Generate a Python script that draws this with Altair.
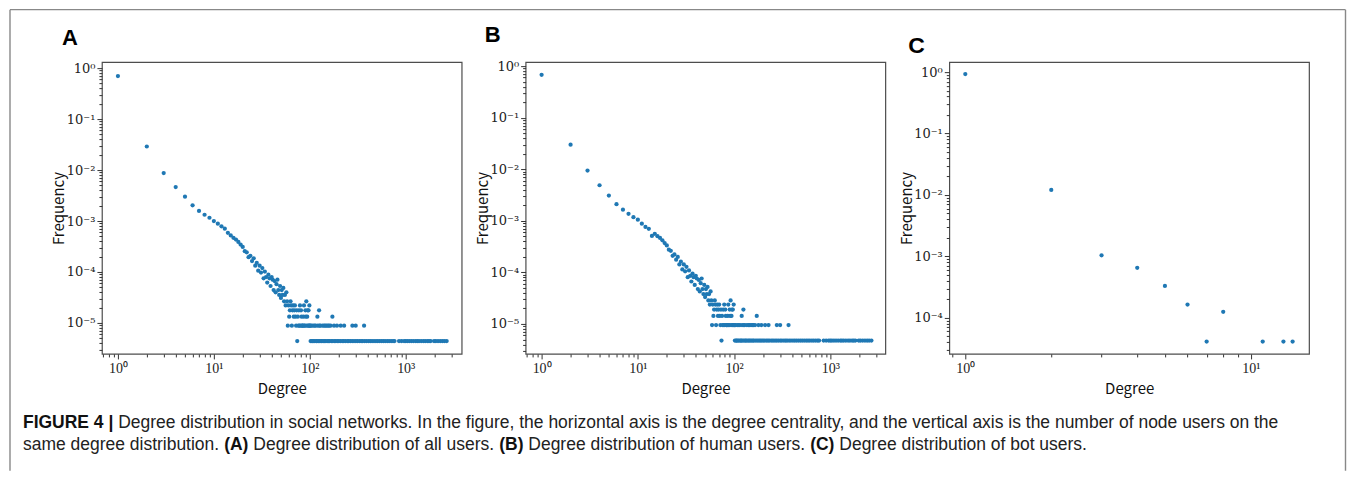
import altair as alt
import pandas as pd

BLUE = "#1f78b4"

# ---------------- data ----------------
# Panel A: all users (counts per degree, normalised by N_ALL)
N_ALL = 226000
A_deg = list(range(1, 101))
A_cnt = [158000, 6550, 1970, 1050, 680, 460, 357, 300, 262, 226,
         200, 178, 160, 133, 118, 106, 98, 88, 78, 70,
         58, 55, 44, 47, 37, 42, 30, 34, 24, 30,
         22, 27, 17, 23, 18, 14, 20, 17, 12, 18,
         16, 10, 15, 9, 13, 16, 10, 8, 12, 7,
         10, 8, 11, 6, 8, 5, 9, 6, 2, 5,
         3, 4, 6, 5, 2, 4, 5, 3, 4, 5,
         3, 2, 4, 1, 3, 2, 4, 2, 5, 2,
         4, 3, 2, 2, 2, 3, 5, 2, 2, 4,
         3, 6, 2, 3, 4, 2, 4, 2, 5, 2]
# degrees above 100 that appear once, twice, three and four times
A_once = [102, 105, 107, 110, 113, 117, 119, 123, 127, 131, 134, 139, 143, 147,
          152, 157, 161, 168, 174, 181, 187, 194, 201, 209, 218, 226, 235, 246,
          255, 266, 277, 289, 302, 314, 329, 343, 356, 373, 390, 409, 427, 446,
          467, 489, 511, 535, 561, 586, 612, 643, 672, 705, 738, 764, 852, 905,
          961, 1000, 1040, 1090, 1145, 1205, 1271, 1320, 1377, 1450, 1529, 1600,
          1683, 1750, 1821, 1973, 2060, 2171, 2290, 2411, 2530, 2673]
A_twice = [101, 104, 108, 112, 115, 121, 126, 129, 136, 141, 145, 150, 155, 159,
           165, 179, 192, 210, 228, 278, 301, 368]
A_thrice = [120, 172]
A_four = [125]

# Panel B: human users (degree >= 15 is shared with A: bots never exceed 14)
N_HUMAN = 210500
B_head_deg = list(range(1, 15))
B_head_cnt = [143000, 6290, 1980, 1030, 650, 442, 345, 288, 248, 221, 185, 160, 147, 107]

# Panel C: bot users (frequencies)
C_deg = [1, 2, 3, 4, 5, 6, 7, 8, 11, 13, 14]
C_freq = [0.93, 0.0121, 0.00104, 0.00065, 0.00033, 0.000164, 0.000041,
          0.000125, 0.000041, 0.000041, 0.000041]

CAPTION_1 = [("FIGURE 4 |", True),
             (" Degree distribution in social networks. In the figure, the horizontal axis is the degree "
              "centrality, and the vertical axis is the number of node users on the", False)]
CAPTION_2 = [("same degree distribution. ", False), ("(A)", True),
             (" Degree distribution of all users. ", False), ("(B)", True),
             (" Degree distribution of human users. ", False), ("(C)", True),
             (" Degree distribution of bot users.", False)]

# ---------------- tables ----------------
tail_deg = A_once + A_twice + A_thrice + A_four
tail_cnt = [1] * len(A_once) + [2] * len(A_twice) + [3] * len(A_thrice) + [4] * len(A_four)

all_deg = A_deg + tail_deg
all_cnt = A_cnt + tail_cnt
dfA = pd.DataFrame({"degree": all_deg, "count": all_cnt})
dfA["freq"] = dfA["count"] / N_ALL

b_deg = B_head_deg + [d for d in all_deg if d >= 15]
b_cnt = B_head_cnt + [c for d, c in zip(all_deg, all_cnt) if d >= 15]
dfB = pd.DataFrame({"degree": b_deg, "count": b_cnt})
dfB["freq"] = dfB["count"] / N_HUMAN

dfC = pd.DataFrame({"degree": C_deg, "freq": C_freq})

# ---------------- helpers ----------------
def log_ticks(lo, hi):
    out = []
    for e in range(-7, 5):
        for m in range(1, 10):
            v = m * 10.0 ** e
            if lo <= v <= hi:
                out.append(v)
    return out

DECADE = "abs(log(datum.value)/LN10 - round(log(datum.value)/LN10)) < 0.001"
SUP = ("replace(replace(replace(replace(replace(replace(replace(''+round(log(datum.value)/LN10),"
       "'-','⁻'),'0','⁰'),'1','¹'),'2','²'),'3','³'),'4','⁴'),'5','⁵')")
LABEL = "(" + DECADE + ") ? '10' + " + SUP + " : ''"
TICK = {"condition": {"test": DECADE, "value": 5}, "value": 3}

W, H = 360, 292
TITLE_FONT = "Noto Sans CJK SC"


def panel(df, xdom, ydom, letter, dx, offset, lsize):
    x_axis = alt.Axis(values=log_ticks(*xdom), labelExpr=LABEL, tickSize=TICK,
                      tickColor="#333", domain=False, grid=False, labelOverlap=False,
                      labelFlush=False, labelFont="Liberation Serif", labelFontSize=14,
                      labelColor="#222", labelPadding=3, title="Degree",
                      titleFont=TITLE_FONT, titleFontSize=15, titleFontWeight="normal",
                      titleColor="#111", titleX=W / 2, titleY=35, titleBaseline="middle",
                      titleAlign="center")
    y_axis = alt.Axis(values=log_ticks(*ydom), labelExpr=LABEL, tickSize=TICK,
                      tickColor="#333", domain=False, grid=False, labelOverlap=False,
                      labelFlush=False, labelFont="DejaVu Serif", labelFontSize=13,
                      labelColor="#222", labelPadding=2, title="Frequency",
                      titleFont=TITLE_FONT, titleFontSize=15, titleFontWeight="normal",
                      titleColor="#111", titleX=-43, titleY=H / 2, titleBaseline="middle",
                      titleAlign="center")
    return alt.Chart(df).mark_circle(size=18, color=BLUE, opacity=1).encode(
        x=alt.X("degree:Q", scale=alt.Scale(type="log", domain=list(xdom), nice=False), axis=x_axis),
        y=alt.Y("freq:Q", scale=alt.Scale(type="log", domain=list(ydom), nice=False), axis=y_axis),
    ).properties(
        width=W, height=H,
        view=alt.ViewBackground(stroke="#4d4d4d", strokeWidth=1.2),
        title=alt.TitleParams(text=letter, anchor="start", frame="group", dx=dx, dy=22,
                              offset=offset, baseline="alphabetic", font="Liberation Sans",
                              fontSize=lsize, fontWeight="bold", color="#000"),
    )


pA = panel(dfA, (0.681, 3830), (2.47e-6, 1.31), "A", -40, 17, 22)
pB = panel(dfB, (0.682, 3730), (2.62e-6, 1.195), "B", -41, 18, 22)
pC = panel(dfC, (0.879, 15.98), (2.58e-5, 1.456), "C", -41, 8, 23)

# ---------------- caption (Liberation Sans = Arial metrics) ----------------
REG = {' ': 278, ',': 278, '.': 278, '(': 333, ')': 333, '|': 260, '4': 556,
       'A': 667, 'B': 667, 'C': 722, 'D': 722, 'E': 667, 'F': 611, 'G': 778, 'I': 278,
       'R': 722, 'U': 722, 'a': 556, 'b': 556, 'c': 500, 'd': 556, 'e': 556, 'f': 278,
       'g': 556, 'h': 556, 'i': 222, 'j': 222, 'k': 500, 'l': 222, 'm': 833, 'n': 556,
       'o': 556, 'p': 556, 'q': 556, 'r': 333, 's': 500, 't': 278, 'u': 556, 'v': 500,
       'w': 722, 'x': 500, 'y': 500, 'z': 500}
BOLD = {' ': 278, '(': 333, ')': 333, '|': 280, '4': 556, 'A': 722, 'B': 722, 'C': 722,
        'E': 667, 'F': 611, 'G': 778, 'I': 278, 'R': 722, 'U': 722}

CAP_SIZE = 17.5
CAP_X0 = -79
CAP_Y = [22, 44]


def tw(s, bold):
    table = BOLD if bold else REG
    return sum(table.get(ch, 556) for ch in s) * CAP_SIZE / 1000.0


rows = []
for line, ypos in zip([CAPTION_1, CAPTION_2], CAP_Y):
    cur = CAP_X0
    for seg, bold in line:
        lead = len(seg) - len(seg.lstrip(" "))
        rows.append({"x": cur + tw(seg[:lead], bold), "y": ypos, "text": seg.strip(" "),
                     "bold": bold})
        cur += tw(seg, bold)
cap_df = pd.DataFrame(rows)

cap_reg = alt.Chart(cap_df[~cap_df["bold"]]).mark_text(
    align="left", baseline="middle", font="Liberation Sans", fontSize=CAP_SIZE, color="#222"
).encode(x=alt.X("x:Q", scale=None), y=alt.Y("y:Q", scale=None), text="text:N")
cap_bold = alt.Chart(cap_df[cap_df["bold"]]).mark_text(
    align="left", baseline="middle", font="Liberation Sans", fontSize=CAP_SIZE,
    fontWeight="bold", color="#111"
).encode(x=alt.X("x:Q", scale=None), y=alt.Y("y:Q", scale=None), text="text:N")

CAP_H = 70
FR_L, FR_R, FR_T = -92, 1244.5, -391.5
frame_df = pd.DataFrame({"x": [FR_L, FR_L, FR_R], "x2": [FR_R, FR_L, FR_R],
                         "y": [FR_T, FR_T, FR_T], "y2": [FR_T, CAP_H, CAP_H]})
frame = alt.Chart(frame_df).mark_rule(color="#888", strokeWidth=1.4).encode(
    x=alt.X("x:Q", scale=None), x2="x2:Q", y=alt.Y("y:Q", scale=None), y2="y2:Q")

caption = alt.layer(frame, cap_reg, cap_bold).properties(
    width=W, height=CAP_H, view=alt.ViewBackground(stroke="transparent"))

chart = alt.concat(pA, pB, pC, caption, columns=3, align="none", bounds="flush",
                   spacing={"row": 47, "column": 64}).properties(
    padding=0
).configure_view(stroke="transparent")

chart.save("out.html", embed_options={"renderer": "svg", "actions": False})
